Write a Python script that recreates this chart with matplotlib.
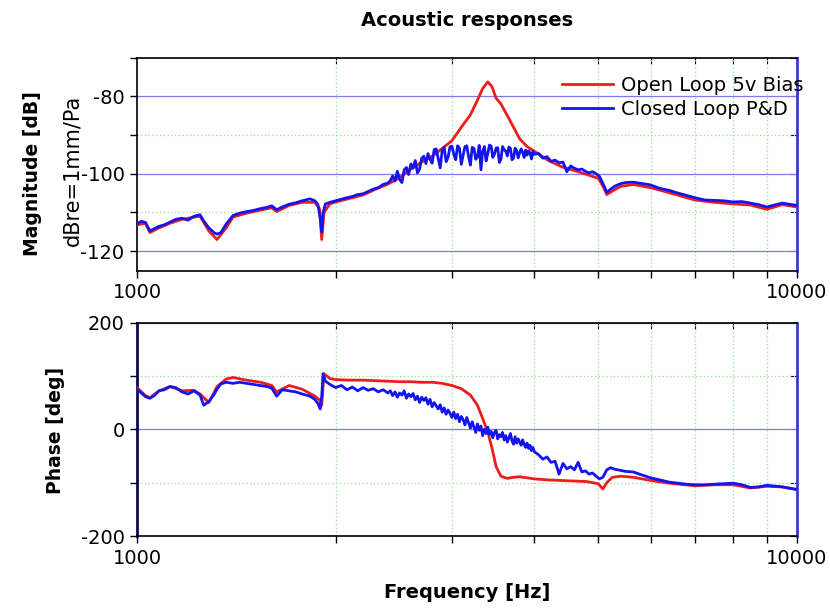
import matplotlib
matplotlib.use("Agg")
import matplotlib.pyplot as plt
from matplotlib.ticker import FixedLocator, NullFormatter, FixedFormatter

plt.rcParams['font.family'] = ['DejaVu Sans']
plt.rcParams['axes.unicode_minus'] = False

# ---------------- data ----------------
closed_freq = [
    1000, 1015, 1030, 1046, 1062, 1080, 1100, 1122, 1145, 1170,
    1195, 1220, 1246, 1262, 1285, 1310, 1322, 1340, 1365, 1398,
    1430, 1465, 1500, 1540, 1575, 1600, 1628, 1660, 1700, 1740,
    1780, 1828, 1860, 1880, 1895, 1905, 1914, 1930, 1960, 2000,
    2040, 2080, 2120, 2160, 2200, 2240, 2280, 2320, 2360, 2400,
    2420, 2440, 2460, 2480, 2500, 2520, 2540, 2560, 2580, 2600,
    2620, 2640, 2660, 2680, 2700, 2720, 2740, 2760, 2780, 2800,
    2820, 2840, 2860, 2880, 2900, 2920, 2940, 2960, 2980, 3000,
    3020, 3040, 3060, 3080, 3100, 3120, 3140, 3160, 3180, 3200,
    3220, 3240, 3260, 3280, 3300, 3320, 3340, 3360, 3380, 3400,
    3420, 3440, 3460, 3480, 3500, 3520, 3540, 3560, 3580, 3600,
    3620, 3640, 3660, 3680, 3700, 3720, 3740, 3760, 3780, 3800,
    3820, 3840, 3860, 3880, 3900, 3920, 3940, 3960, 3980, 4000,
    4060, 4120, 4180, 4240, 4300, 4360, 4420, 4480, 4540, 4600,
    4660, 4720, 4780, 4840, 4900, 4960, 5020, 5080, 5150, 5220,
    5300, 5400, 5500, 5650, 5800, 6000, 6200, 6400, 6600, 6800,
    7000, 7250, 7500, 7750, 8000, 8250, 8500, 8750, 9000, 9500,
    10000,
]
closed_mag = [
    -113.0, -112.3, -112.6, -114.8, -114.2, -113.6, -113.2, -112.5, -111.8, -111.5,
    -112.0, -111.0, -110.6, -112.2, -114.0, -115.3, -115.6, -115.2, -113.0, -110.8,
    -110.2, -109.8, -109.5, -109.0, -108.7, -108.3, -109.3, -108.6, -107.9, -107.5,
    -107.0, -106.5, -107.0, -108.0, -111.5, -115.0, -110.0, -107.8, -107.4, -107.0,
    -106.6, -106.2, -105.9, -105.4, -105.2, -104.6, -104.0, -103.6, -102.8, -102.4,
    -101.8, -100.6, -101.9, -99.4, -101.5, -102.3, -99.0, -98.4, -100.2, -97.5,
    -98.6, -96.6, -99.8, -98.8, -96.0, -95.5, -97.4, -94.8, -96.3, -97.3,
    -93.8, -93.6, -96.1, -98.5, -94.0, -93.2, -96.9, -95.8, -93.1, -92.9,
    -95.0, -96.4, -92.8, -93.4, -97.6, -95.2, -93.0, -92.8, -95.6, -97.8,
    -93.2, -93.5, -96.3, -95.6, -92.7, -99.0, -94.1, -93.0, -96.7, -94.8,
    -92.6, -92.9, -95.8, -95.0, -93.4, -93.3, -97.1, -96.2, -93.0, -93.8,
    -94.2, -95.4, -93.1, -93.5, -96.4, -96.0, -93.4, -94.0, -95.9, -94.6,
    -93.6, -94.5, -95.8, -93.9, -95.2, -94.1, -94.6, -96.2, -94.3, -95.0,
    -94.8, -96.0, -95.6, -96.8, -96.5, -97.2, -97.0, -99.5, -98.0, -98.6,
    -99.0, -98.8, -99.4, -99.8, -99.5, -100.0, -100.7, -102.5, -104.8, -104.0,
    -103.2, -102.6, -102.3, -102.2, -102.5, -102.9, -103.8, -104.3, -105.0, -105.6,
    -106.2, -106.8, -106.9, -107.0, -107.3, -107.2, -107.6, -108.0, -108.6, -107.6,
    -108.2,
]
closed_phase = [
    75, 68, 61, 58, 63, 72, 74, 80, 78, 70,
    66, 72, 64, 45, 52, 66, 75, 85, 88, 86,
    88, 86, 84, 82, 80, 77, 62, 74, 72, 70,
    66, 62, 56, 48, 38, 62, 104, 90, 84, 78,
    82, 74, 79, 72, 78, 73, 76, 70, 74, 68,
    72, 63, 70, 60, 68, 64, 72, 58, 66, 61,
    67, 55, 62, 50, 60, 54, 59, 47, 56, 42,
    50, 44, 38, 46, 32, 40, 28, 36, 30, 22,
    32, 20, 28, 14, 24, 18, 8, 22, 12, 2,
    14, 4, -6, 10, -2, 6, -12, 0, -8, 4,
    -10, -4, -16, -6, -2, -18, -10, -14, -6, -20,
    -12, -24, -16, -8, -22, -28, -14, -26, -18, -24,
    -30, -20, -28, -34, -26, -36, -30, -40, -34, -42,
    -48, -56, -52, -62, -60, -84, -64, -74, -70, -76,
    -62, -80, -78, -84, -82, -88, -93, -90, -76, -72,
    -75, -77, -79, -80, -85, -91, -95, -99, -101, -103,
    -104, -104, -103, -102, -101, -104, -109, -108, -105, -108,
    -113,
]

open_freq = [
    1000, 1030, 1046, 1080, 1122, 1170, 1220, 1246, 1285, 1322,
    1365, 1398, 1465, 1540, 1600, 1628, 1700, 1780, 1860, 1890,
    1905, 1920, 1960, 2000, 2100, 2200, 2300, 2400, 2500, 2600,
    2700, 2800, 2900, 3000, 3100, 3200, 3280, 3340, 3400, 3450,
    3500, 3560, 3640, 3720, 3800, 3900, 4000, 4200, 4400, 4600,
    4800, 5000, 5080, 5150, 5250, 5400, 5650, 6000, 6400, 7000,
    7500, 8000, 8500, 9000, 9500, 10000,
]
open_mag = [
    -113.2, -112.8, -115.2, -114.0, -112.8, -111.8, -111.2, -111.0, -114.8, -117.0,
    -114.0, -111.2, -110.2, -109.4, -108.8, -109.8, -108.2, -107.4, -107.4, -109.0,
    -117.0, -110.0, -107.8, -107.3, -106.4, -105.5, -104.0, -102.7, -101.0, -98.8,
    -97.0, -95.5, -93.5, -91.5, -88.0, -84.8, -81.0, -78.0, -76.3, -77.5,
    -80.5, -82.0, -85.0, -88.0, -91.0, -93.0, -94.2, -96.6, -98.2, -99.2,
    -100.2, -101.2, -103.2, -105.4, -104.5, -103.3, -102.8, -103.6, -104.9, -106.8,
    -107.4, -107.8, -108.1, -109.2, -108.0, -108.6,
]
open_phase = [
    78, 63, 59, 72, 80, 72, 73, 66, 50, 80,
    94, 97, 92, 88, 82, 70, 82, 75, 62, 55,
    45, 104, 95, 93, 92, 92, 91, 90, 89, 89,
    88, 88, 86, 82, 76, 64, 45, 20, -5, -35,
    -70, -88, -92, -90, -89, -91, -93, -95, -96, -97,
    -98, -102, -112, -100, -90, -88, -90, -96, -101, -106,
    -104, -104, -110, -107, -108, -113,
]

x_major = [1000, 10000]
x_major_labels = ["1000", "10000"]
x_minor = [2000, 3000, 4000, 5000, 6000, 7000, 8000, 9000]
mag_major = [-120, -100, -80]
mag_minor = [-110, -90, -70]
phase_major = [-200, 0, 200]
phase_minor = [-100, 100]

series_labels = ["Open Loop 5v Bias", "Closed Loop P&D"]

# ---------------- figure ----------------
W, H = 830, 608
fig = plt.figure(figsize=(W / 100, H / 100), dpi=100)

def frac_box(l, t, r, b):
    return [l / W, 1 - b / H, (r - l) / W, (b - t) / H]

ax1 = fig.add_axes(frac_box(137, 57.5, 797, 270.5))
ax2 = fig.add_axes(frac_box(137, 322.5, 797, 536))

RED = '#ee1c1c'
BLUE = '#1414f0'
GRID_BLUE = '#7b7bf0'
GRID_GREEN = '#8fe08f'
TICK_FS = 14

def style(ax, ymaj, ymin, ylim, dark_left=False):
    ax.set_xscale('log')
    ax.set_xlim(1000, 10000)
    ax.set_ylim(*ylim)
    ax.xaxis.set_major_locator(FixedLocator(x_major))
    ax.xaxis.set_major_formatter(FixedFormatter(x_major_labels))
    ax.xaxis.set_minor_locator(FixedLocator(x_minor))
    ax.xaxis.set_minor_formatter(NullFormatter())
    ax.yaxis.set_major_locator(FixedLocator(ymaj))
    ax.yaxis.set_minor_locator(FixedLocator(ymin))
    ax.grid(True, which='minor', axis='x', color=GRID_GREEN, ls=(0, (1, 2)), lw=0.9)
    ax.grid(True, which='major', axis='y', color=GRID_BLUE, ls='-', lw=0.9)
    ax.grid(True, which='minor', axis='y', color=GRID_GREEN, ls=(0, (1, 2)), lw=0.9)
    ax.set_axisbelow(True)
    ax.tick_params(which='both', direction='out', length=5, width=1.0,
                   labelsize=TICK_FS, pad=4, top=False, right=False)
    for s in ['top', 'bottom', 'left']:
        ax.spines[s].set_linewidth(1.2)
        ax.spines[s].set_color('black')
    ax.spines['right'].set_color('#3a3ac8')
    ax.spines['right'].set_linewidth(2.0)
    if dark_left:
        ax.spines['left'].set_color('#0a0a50')
        ax.spines['left'].set_linewidth(2.0)
    sx = ax.secondary_xaxis('top')
    sx.set_xticks(x_minor, minor=False)
    sx.tick_params(direction='in', length=5, labeltop=False)
    sx.xaxis.set_major_formatter(NullFormatter())
    sx.xaxis.set_minor_locator(FixedLocator([]))
    sx.spines['top'].set_visible(False)
    sy = ax.secondary_yaxis('right')
    sy.set_yticks(list(ymaj) + list(ymin))
    sy.tick_params(direction='in', length=5, labelright=False)
    sy.yaxis.set_major_formatter(NullFormatter())
    sy.yaxis.set_minor_locator(FixedLocator([]))
    sy.spines['right'].set_visible(False)

style(ax1, mag_major, mag_minor, (-125, -70))
style(ax2, phase_major, phase_minor, (-200, 200), dark_left=True)

ax1.plot(open_freq, open_mag, color=RED, lw=2.0, label=series_labels[0], zorder=3)
ax1.plot(closed_freq, closed_mag, color=BLUE, lw=2.0, label=series_labels[1], zorder=4)
ax2.plot(open_freq, open_phase, color=RED, lw=2.0, zorder=3)
ax2.plot(closed_freq, closed_phase, color=BLUE, lw=2.0, zorder=4)

leg = ax1.legend(loc='upper left', bbox_to_anchor=(562 / W, 1 - 76 / H),
                 bbox_transform=fig.transFigure, frameon=False, fontsize=14,
                 handlelength=2.6, handletextpad=0.45, labelspacing=0.25,
                 borderaxespad=0, borderpad=0)

fig.text(467 / W, 1 - 20 / H, "Acoustic responses", ha='center', va='center',
         fontsize=14, fontweight='bold')
fig.text(467 / W, 1 - 592 / H, "Frequency [Hz]", ha='center', va='center',
         fontsize=14, fontweight='bold')
fig.text(33 / W, 1 - 174 / H, "Magnitude [dB]", ha='center', va='center',
         rotation=90, fontsize=13.5, fontweight='bold')
fig.text(72 / W, 1 - 170 / H, "dBre=1mm/Pa", ha='center', va='center',
         rotation=90, fontsize=15)
fig.text(55 / W, 1 - 430 / H, "Phase [deg]", ha='center', va='center',
         rotation=90, fontsize=13.5, fontweight='bold')

fig.savefig("out.png", dpi=100)
